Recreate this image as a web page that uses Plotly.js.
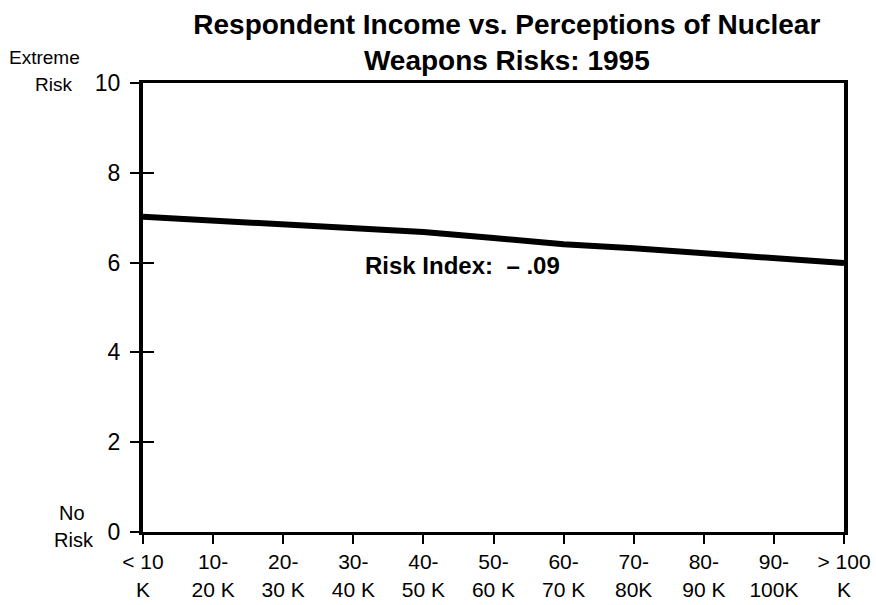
<!DOCTYPE html>
<html>
<head>
<meta charset="utf-8">
<script src="https://cdn.plot.ly/plotly-3.0.1.min.js"></script>
<style>html,body{margin:0;padding:0;background:#fff;}#chart{width:876px;height:605px;}</style>
</head>
<body>
<div id="chart"></div>
<script>
const categories = ["< 10<br>K", "10-<br>20 K", "20-<br>30 K", "30-<br>40 K", "40-<br>50 K", "50-<br>60 K", "60-<br>70 K", "70-<br>80K", "80-<br>90 K", "90-<br>100K", "> 100<br>K"];
const riskValues = [7.02, 6.93, 6.84, 6.74, 6.68, 6.55, 6.41, 6.32, 6.21, 6.08, 5.99];
const yTickVals = [0, 2, 4, 6, 8, 10];
const yTickText = ["0", "2", "4", "6", "8", "10"];

const FONT = "Liberation Sans, Arial, Helvetica, sans-serif";

const traces = [
  {
    x: categories,
    y: riskValues,
    type: "scatter",
    mode: "lines",
    line: {color: "#000", width: 6},
    hoverinfo: "x+y",
    showlegend: false
  },
  {
    x: categories,
    y: riskValues,
    type: "scatter",
    mode: "lines",
    yaxis: "y2",
    line: {color: "rgba(0,0,0,0)", width: 0},
    hoverinfo: "skip",
    showlegend: false
  }
];

const layout = {
  width: 876,
  height: 605,
  margin: {l: 143, r: 32, t: 83, b: 73},
  paper_bgcolor: "#fff",
  plot_bgcolor: "#fff",
  font: {family: FONT, color: "#000", size: 20},
  title: {
    text: "<b>Respondent Income vs. Perceptions of Nuclear<br>Weapons Risks: 1995</b>",
    font: {family: FONT, size: 28, color: "#000"},
    x: 0.519, xref: "paper", xanchor: "center",
    y: 0.944, yref: "container", yanchor: "middle"
  },
  xaxis: {
    type: "category",
    range: [0, 10],
    showgrid: false,
    zeroline: false,
    showline: true,
    linecolor: "#000",
    linewidth: 3,
    mirror: true,
    ticks: "outside",
    ticklen: 9,
    tickwidth: 2,
    tickcolor: "#000",
    tickfont: {family: FONT, size: 21, color: "#000"},
    fixedrange: true
  },
  yaxis: {
    range: [0, 10],
    tickvals: yTickVals,
    ticktext: yTickText,
    showgrid: false,
    zeroline: false,
    showline: true,
    linecolor: "#000",
    linewidth: 4,
    mirror: true,
    ticks: "outside",
    ticklen: 9,
    tickwidth: 2,
    tickcolor: "#000",
    ticklabelstandoff: 5,
    tickfont: {family: FONT, size: 23, color: "#000"},
    fixedrange: true
  },
  yaxis2: {
    range: [0, 10],
    overlaying: "y",
    side: "left",
    tickvals: yTickVals,
    showticklabels: false,
    showgrid: false,
    zeroline: false,
    showline: false,
    ticks: "inside",
    ticklen: 11,
    tickwidth: 2,
    tickcolor: "#000",
    fixedrange: true
  },
  annotations: [
    {text: "Extreme", xref: "paper", yref: "paper", x: -0.141, y: 1.057, xanchor: "center", yanchor: "middle", showarrow: false, font: {family: FONT, size: 19, color: "#000"}},
    {text: "Risk", xref: "paper", yref: "paper", x: -0.128, y: 0.997, xanchor: "center", yanchor: "middle", showarrow: false, font: {family: FONT, size: 19, color: "#000"}},
    {text: "No", xref: "paper", yref: "paper", x: -0.101, y: 0.042, xanchor: "center", yanchor: "middle", showarrow: false, font: {family: FONT, size: 20, color: "#000"}},
    {text: "Risk", xref: "paper", yref: "paper", x: -0.098, y: -0.018, xanchor: "center", yanchor: "middle", showarrow: false, font: {family: FONT, size: 20, color: "#000"}},
    {text: "<b>Risk Index:  – .09</b>", xref: "paper", yref: "paper", x: 0.456, y: 0.593, xanchor: "center", yanchor: "middle", showarrow: false, font: {family: FONT, size: 24, color: "#000"}}
  ]
};

Plotly.newPlot("chart", traces, layout, {displayModeBar: false, staticPlot: true});
</script>
</body>
</html>
